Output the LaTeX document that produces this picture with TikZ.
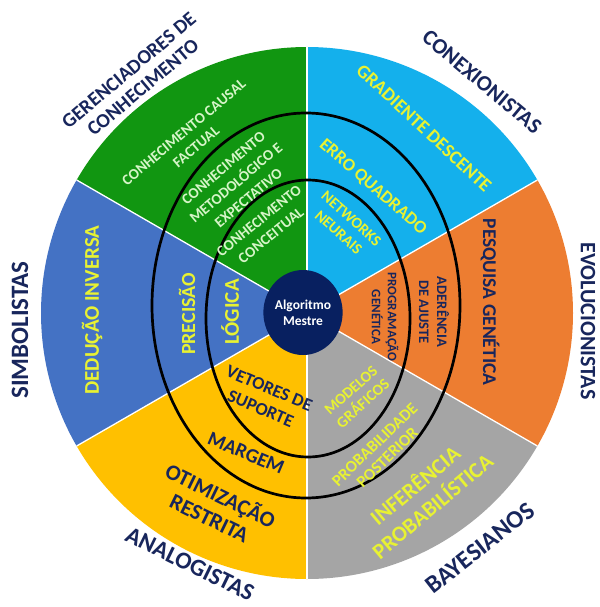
\documentclass[tikz,border=0pt]{standalone}
\usepackage{fontspec}
\setmainfont{Carlito}
\usetikzlibrary{shapes.geometric}

\definecolor{secgreen}{RGB}{17,150,17}
\definecolor{secsky}{RGB}{20,176,236}
\definecolor{secorange}{RGB}{237,125,49}
\definecolor{secgray}{RGB}{165,165,165}
\definecolor{secgold}{RGB}{255,192,0}
\definecolor{secblue}{RGB}{68,114,196}
\definecolor{corenavy}{RGB}{8,32,96}
\definecolor{inknavy}{RGB}{24,38,92}
\definecolor{inkyellow}{RGB}{232,242,50}
\definecolor{inkmint}{RGB}{214,245,200}

\newcommand\fsz[2]{\fontsize{#1}{#2}\selectfont\bfseries}

\tikzset{
  lbl/.style={align=center, inner sep=0pt},
  outer/.style={lbl, text=inknavy},
  onyellow/.style={lbl, text=inkyellow},
  onnavy/.style={lbl, text=inknavy},
  onmint/.style={lbl, text=inkmint},
  ring/.style={draw=black, line width=2.7pt},
  seam/.style={draw=white, line width=1.3pt},
}

\begin{document}
\begin{tikzpicture}[x=1pt,y=1pt]
\useasboundingbox (0,0) rectangle (599,-607);
\fill[white] (0,0) rectangle (599,-607);

% six sectors of the wheel
\coordinate (O) at (307,-313);
\fill[secsky]    (O) -- ++(30:266pt)  arc[start angle=30,  end angle=90,  radius=266pt] -- cycle;
\fill[secgreen]  (O) -- ++(90:266pt)  arc[start angle=90,  end angle=150, radius=266pt] -- cycle;
\fill[secblue]   (O) -- ++(150:266pt) arc[start angle=150, end angle=210, radius=266pt] -- cycle;
\fill[secgold]   (O) -- ++(210:266pt) arc[start angle=210, end angle=270, radius=266pt] -- cycle;
\fill[secgray]   (O) -- ++(270:266pt) arc[start angle=270, end angle=330, radius=266pt] -- cycle;
\fill[secorange] (O) -- ++(330:266pt) arc[start angle=330, end angle=390, radius=266pt] -- cycle;
\foreach \a in {30,90,150,210,270,330}
  \draw[seam] (O) -- ++(\a:266pt);

% concentric rings
\draw[ring] (306,-305.5) ellipse [x radius=154pt, y radius=192.5pt];
\draw[ring] (308,-318.5) ellipse [x radius=102pt, y radius=138.5pt];

% core
\node[ellipse, fill=corenavy, minimum width=70pt, minimum height=85pt, inner sep=0pt,
      text=white, align=center, font=\fsz{13.5}{16}] (core) at (303,-312.5) {Algoritmo\\Mestre};

% school names around the wheel
\node[outer, rotate=90,  font=\fsz{25}{30}] (simb) at (20,-330) {SIMBOLISTAS};
\node[outer, rotate=-90, font=\fsz{22}{26}] (evol) at (588,-321) {EVOLUCIONISTAS};
\node[outer, rotate=40,  font=\fsz{20}{22}] (ger)  at (136,-79) {GERENCIADORES DE\\CONHECIMENTO};
\node[outer, rotate=-40, font=\fsz{22}{26}] (conx) at (482,-82) {CONEXIONISTAS};
\node[outer, rotate=-26, font=\fsz{24}{29}] (anal) at (190,-564) {ANALOGISTAS};
\node[outer, rotate=38,  font=\fsz{25}{30}] (bay)  at (480,-548) {BAYESIANOS};

% symbolists
\node[onyellow, rotate=90, font=\fsz{21}{25}] (ded) at (92,-310) {DEDUÇÃO INVERSA};
\node[onyellow, rotate=90, font=\fsz{20}{24}] (pre) at (187,-314) {PRECISÃO};
\node[onyellow, rotate=90, font=\fsz{21}{25}] (log) at (230,-312) {LÓGICA};

% knowledge managers
\node[onmint, rotate=40, font=\fsz{15}{19}] (ccf) at (190,-139.5) {CONHECIMENTO CAUSAL\\FACTUAL};
\node[onmint, rotate=40, font=\fsz{15}{19.5}] (cme) at (236,-183) {CONHECIMENTO\\METODOLÓGICO E\\EXPECTATIVO};
\node[onmint, rotate=39, font=\fsz{15}{19}] (cco) at (265,-228) {CONHECIMENTO\\CONCEITUAL};

% connectionists
\node[onyellow, rotate=-43, font=\fsz{19}{23}] (grad) at (424,-128) {GRADIENTE DESCENTE};
\node[onyellow, rotate=-41, font=\fsz{18}{22}] (erro) at (373,-187) {ERRO QUADRADO};
\node[onyellow, rotate=-42, font=\fsz{15.5}{19}] (net) at (345,-225.5) {NETWORKS\\NEURAIS};

% evolutionists
\node[onnavy, rotate=-90, font=\fsz{19.5}{24}] (pesq) at (490,-302) {PESQUISA GENÉTICA};
\node[onnavy, rotate=-90, font=\fsz{14.5}{18}] (ader) at (434,-312) {ADERÊNCIA\\DE AJUSTE};
\node[onnavy, rotate=-90, font=\fsz{13}{16}] (prog) at (385,-317) {PROGRAMAÇÃO\\GENÉTICA};

% bayesians
\node[onyellow, rotate=42, font=\fsz{15.5}{18}] (mod) at (357,-397) {MODELOS\\GRÁFICOS};
\node[onyellow, rotate=44, font=\fsz{16.5}{18}] (prob) at (381,-451) {PROBABILIDADE\\POSTERIOR};
\node[onyellow, rotate=40, font=\fsz{22}{27}] (inf) at (423,-495) {INFERÊNCIA\\PROBABILÍSTICA};

% analogizers
\node[onnavy, rotate=-23, font=\fsz{18}{22}] (vet) at (265,-398.5) {VETORES DE\\SUPORTE};
\node[onnavy, rotate=-23, font=\fsz{20}{24}] (marg) at (246,-453) {MARGEM};
\node[onnavy, rotate=-26, font=\fsz{22}{25}] (otim) at (215.5,-506) {OTIMIZAÇÃO\\RESTRITA};
\end{tikzpicture}
\end{document}
